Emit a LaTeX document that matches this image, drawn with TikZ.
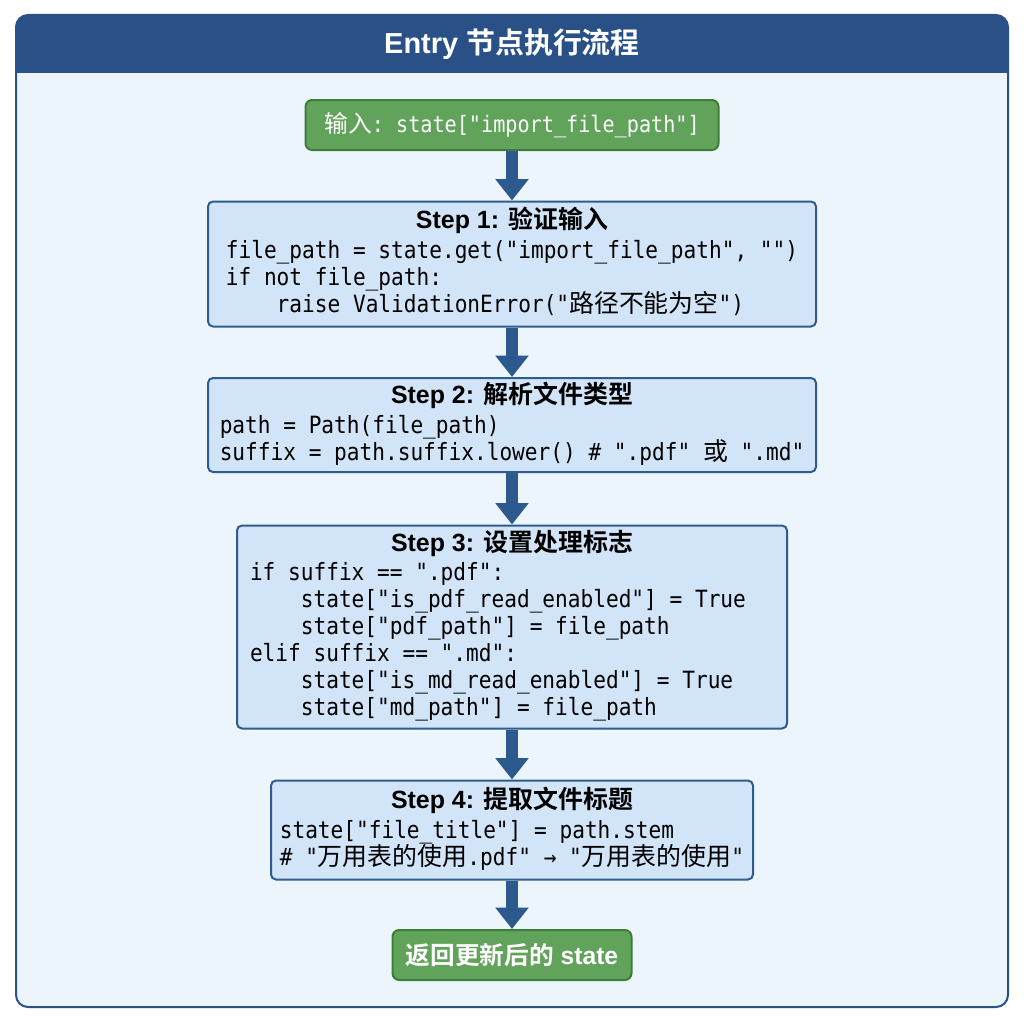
\documentclass[tikz,border=0pt]{standalone}
\usepackage{fontspec}
\setmainfont{Liberation Sans}
\setmonofont[FakeStretch=0.89]{DejaVu Sans Mono}
\newfontfamily\cjk[BoldFont={Noto Sans CJK SC Bold}]{Noto Sans CJK SC}
\newfontfamily\cjkcode[Scale=1.05]{Noto Sans CJK SC}
\usetikzlibrary{arrows.meta}

\definecolor{headblue}{RGB}{42,81,135}
\definecolor{panelbg}{RGB}{236,244,252}
\definecolor{stepfill}{RGB}{210,228,247}
\definecolor{stepline}{RGB}{46,92,143}
\definecolor{okfill}{RGB}{98,163,92}
\definecolor{okline}{RGB}{62,124,59}
\definecolor{arrowblue}{RGB}{44,90,142}

\newcommand{\codeind}{\phantom{xxxx}}
\newcommand{\zh}[1]{\smash{\cjkcode #1}}
% title row: #1 = width of the code column, centred title
\newcommand{\steptitle}[3]{\multicolumn{1}{@{}c@{}}{\makebox[#1]{\normalfont\bfseries\fontsize{18.7}{20.25}\selectfont Step #2: {\cjk #3}}}}

\tikzset{
  stepbox/.style={draw=stepline, fill=stepfill, line width=1.5pt, rounded corners=3.75pt,
    inner sep=0pt, font=\ttfamily\fontsize{17.8}{20.25}\selectfont},
  okbox/.style={draw=okline, fill=okfill, line width=1.5pt, rounded corners=5pt,
    inner sep=0pt, text=white, minimum height=37.5pt},
  flowarrow/.style={draw=arrowblue, line width=9pt, -{Triangle[width=24pt,length=16pt]}},
}

\begin{document}
\begin{tikzpicture}[x=0.75pt,y=0.75pt,yscale=-1,xscale=1]
    \useasboundingbox (0,0) rectangle (1024,1024);

    %Panel and header
    \fill[panelbg, rounded corners=9pt] (16,15) rectangle (1008,1007);
    \begin{scope}
      \clip[rounded corners=9pt] (16,15) rectangle (1008,1007);
      \fill[headblue] (16,15) rectangle (1008,73);
    \end{scope}
    \draw[headblue, line width=1.5pt, rounded corners=9pt] (16,15) rectangle (1008,1007);
    \node[text=white, font=\bfseries\fontsize{21.7}{26}\selectfont] (title) at (512,44) {Entry {\cjk 节点执行流程}};

    %Input and output
    \node[okbox, minimum width=309.75pt, font=\ttfamily\fontsize{17}{20}\selectfont] (input) at (512,125)
      {{\cjkcode 输入}: state["import\_file\_path"]};
    \node[okbox, minimum width=179.25pt, font=\bfseries\fontsize{18.5}{22}\selectfont] (result) at (512,955)
      {{\cjk 返回更新后的} state};

    %Steps
    \node[stepbox, minimum width=456pt, minimum height=93.75pt] (step1) at (512,264) {%
      \begin{tabular}{@{}l@{}}
      \steptitle{426pt}{1}{验证输入}\\[2pt]
      file\_path = state.get("import\_file\_path", "")\\
      if not file\_path:\\
      \codeind raise ValidationError("\zh{路径不能为空}")
      \end{tabular}};

    \node[stepbox, minimum width=456pt, minimum height=70.5pt] (step2) at (512,425) {%
      \begin{tabular}{@{}l@{}}
      \steptitle{438pt}{2}{解析文件类型}\\[2pt]
      path = Path(file\_path)\\
      suffix = path.suffix.lower() \# ".pdf" \zh{或} ".md"
      \end{tabular}};

    \node[stepbox, minimum width=412.5pt, minimum height=152.25pt] (step3) at (512,627) {%
      \begin{tabular}{@{}l@{}}
      \steptitle{393pt}{3}{设置处理标志}\\[2pt]
      if suffix == ".pdf":\\
      \codeind state["is\_pdf\_read\_enabled"] = True\\
      \codeind state["pdf\_path"] = file\_path\\
      elif suffix == ".md":\\
      \codeind state["is\_md\_read\_enabled"] = True\\
      \codeind state["md\_path"] = file\_path
      \end{tabular}};

    \node[stepbox, minimum width=361.5pt, minimum height=74.25pt] (step4) at (512,830) {%
      \begin{tabular}{@{}l@{}}
      \steptitle{342pt}{4}{提取文件标题}\\[2pt]
      state["file\_title"] = path.stem\\
      \# "\zh{万用表的使用}.pdf" → "\zh{万用表的使用}"
      \end{tabular}};

    %Arrows
    \draw[flowarrow] (input) -- (step1);
    \draw[flowarrow] (step1) -- (step2);
    \draw[flowarrow] (step2) -- (step3);
    \draw[flowarrow] (step3) -- (step4);
    \draw[flowarrow] (step4) -- (result);
\end{tikzpicture}
\end{document}
